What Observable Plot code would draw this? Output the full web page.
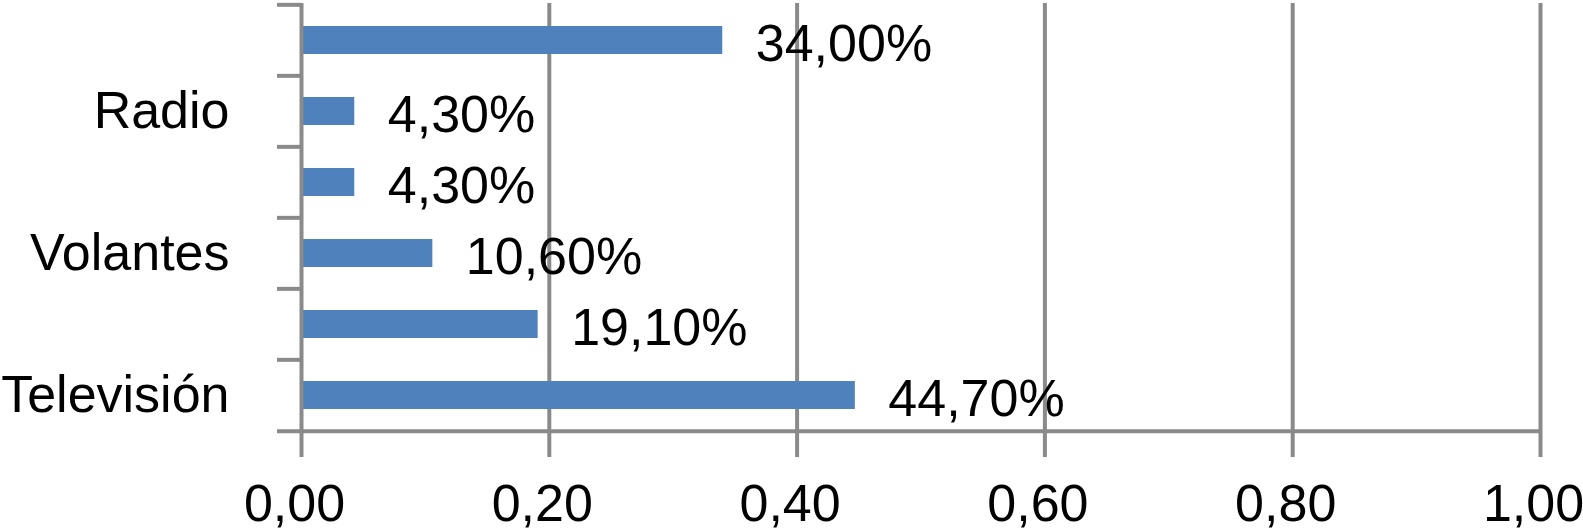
<!DOCTYPE html>
<html>
<head>
<meta charset="utf-8">
<script src="https://cdn.jsdelivr.net/npm/d3@7"></script>
<script src="https://cdn.jsdelivr.net/npm/@observablehq/plot@0.6"></script>
<style>
  html, body { margin: 0; padding: 0; background: #fff; }
  svg { display: block; }
</style>
</head>
<body>
<div id="chart"></div>
<script>
// Categories from top to bottom (only every other label is shown in the original)
const categories = ["Internet", "Radio", "Prensa", "Volantes", "Boca a boca", "Televisión"];
const shownLabels = ["Radio", "Volantes", "Televisión"];
const values = [0.34, 0.043, 0.043, 0.106, 0.191, 0.447];
const xTicks = [0, 0.2, 0.4, 0.6, 0.8, 1.0];

const data = categories.map((c, i) => ({category: c, value: values[i]}));

const W = 1583, H = 532;
const mTop = 3, mBottom = 101, mLeft = 301, mRight = 43;
const step = (H - mTop - mBottom) / categories.length;
const gray = "#8a8a8a";
const blue = "#4f81bd";
const font = "'Liberation Sans', Arial, Helvetica, sans-serif";
const fs = 52;
const tickLenPx = 24;
const xPerPx = 1 / (W - mLeft - mRight);

const fmtTick = v => v.toFixed(2).replace(".", ",");
const fmtPct = v => (v * 100).toFixed(2).replace(".", ",") + "%";

const chart = Plot.plot({
  width: W,
  height: H,
  marginTop: mTop,
  marginBottom: mBottom,
  marginLeft: mLeft,
  marginRight: mRight,
  style: {fontFamily: font, fontSize: fs + "px", color: "#000", background: "#fff"},
  x: {domain: [0, 1], ticks: xTicks, label: null},
  y: {type: "band", domain: categories, paddingInner: 0.61, paddingOuter: 0.305, label: null},
  marks: [
    // vertical gridlines
    Plot.ruleX(xTicks.slice(1), {stroke: gray, strokeWidth: 4}),
    // bottom x axis tick marks
    Plot.axisX({
      ticks: xTicks, tickSize: 26, text: null, label: null,
      stroke: gray, strokeWidth: 4, strokeOpacity: 1
    }),
    // bottom x axis tick labels
    Plot.axisX({
      ticks: xTicks, tickSize: 26, tickPadding: 27, tickFormat: fmtTick, label: null,
      strokeOpacity: 0, fill: "#000", fontSize: fs, dx: -7
    }),
    // bars
    Plot.barX(data, {y: "category", x: "value", fill: blue}),
    // y axis line at 0
    Plot.ruleX([0], {stroke: gray, strokeWidth: 4}),
    // y tick marks at category boundaries (top of each band)
    Plot.ruleY(categories, {y: d => d, x1: -tickLenPx * xPerPx, x2: 0, dy: -step / 2, stroke: gray, strokeWidth: 4}),
    // bottom axis line (extends left as the last tick)
    Plot.ruleY([categories[categories.length - 1]], {y: d => d, x1: -tickLenPx * xPerPx, x2: 1, dy: step / 2, stroke: gray, strokeWidth: 4}),
    // y axis labels
    Plot.axisY({
      tickSize: 0, tickPadding: 72, label: null,
      tickFormat: d => shownLabels.includes(d) ? d : "",
      fill: "#000", fontSize: fs
    }),
    // value labels
    Plot.text(data, {
      y: "category", x: "value", text: d => fmtPct(d.value),
      textAnchor: "start", dx: 33, dy: 4, fill: "#000", fontSize: fs
    })
  ]
});

document.getElementById("chart").appendChild(chart);
</script>
</body>
</html>
